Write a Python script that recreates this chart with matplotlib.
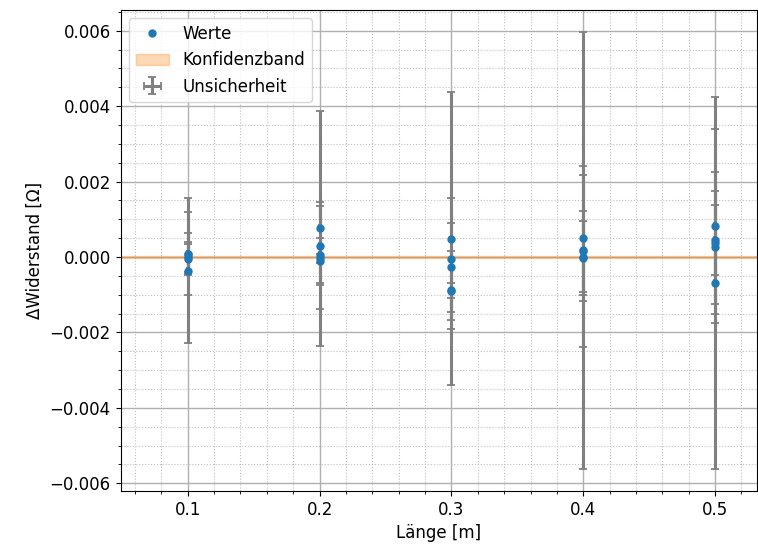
import matplotlib
matplotlib.use("Agg")
import matplotlib.pyplot as plt
import numpy as np
from matplotlib.ticker import MultipleLocator

# data
laengen = [0.1, 0.2, 0.3, 0.4, 0.5]
residuen = [
    [-0.00036, 0.00009, 0.00008, 0.00000, -0.00005],
    [0.00076, 0.00004, 0.00030, -0.00010, -0.00003],
    [0.00048, -0.00005, -0.00028, -0.00087, -0.00090],
    [0.00018, 0.00001, 0.00050, 0.00015, -0.00003],
    [-0.00069, 0.00082, 0.00037, 0.00026, 0.00045],
]
fehler = [
    [0.00191, 0.00109, 0.00055, 0.00040, 0.00040],
    [0.00312, 0.00141, 0.00104, 0.00060, 0.00012],
    [0.00388, 0.00162, 0.00118, 0.00104, 0.00020],
    [0.00579, 0.00239, 0.00166, 0.00108, 0.00097],
    [0.00494, 0.00257, 0.00187, 0.00150, 0.00093],
]
x_fehler = 0.0005
band_x = [0.049, 0.532]
band_halbbreite = [0.00002, 0.00002]

plt.rcParams['font.size'] = 12
fig = plt.figure(figsize=(7.58, 5.5), dpi=100)
ax = fig.add_axes([0.159, 0.107, 0.84, 0.875])

xs = np.repeat(laengen, 5)
ys = np.concatenate(residuen)
es = np.concatenate(fehler)

ax.errorbar(xs, ys, yerr=es, xerr=x_fehler, fmt='none', ecolor='grey',
            elinewidth=2.2, capsize=3, capthick=1.3, zorder=2, label='Unsicherheit')
bx = np.array(band_x)
bh = np.array(band_halbbreite)
ax.fill_between(bx, -bh, bh, color='C1', alpha=0.3, zorder=1.5, label='Konfidenzband')
ax.plot(xs, ys, 'o', color='C0', markersize=5, zorder=3, label='Werte', linestyle='none')

ax.set_xlim(0.049, 0.532)
ax.xaxis.set_major_locator(MultipleLocator(0.1))
ax.xaxis.set_minor_locator(MultipleLocator(0.02))
ax.yaxis.set_major_locator(MultipleLocator(0.002))
ax.yaxis.set_minor_locator(MultipleLocator(0.0005))
ax.grid(which='major', color='#b0b0b0', linewidth=1.0)
ax.grid(which='minor', color='#c0c0c0', linestyle=':', linewidth=0.8)
ax.set_axisbelow(True)

ax.set_xlabel('Länge [m]')
ax.set_ylabel('ΔWiderstand [Ω]')

h, l = ax.get_legend_handles_labels()
order = [l.index('Werte'), l.index('Konfidenzband'), l.index('Unsicherheit')]
ax.legend([h[i] for i in order], [l[i] for i in order], loc='upper left')

fig.savefig('out.png', dpi=100)
